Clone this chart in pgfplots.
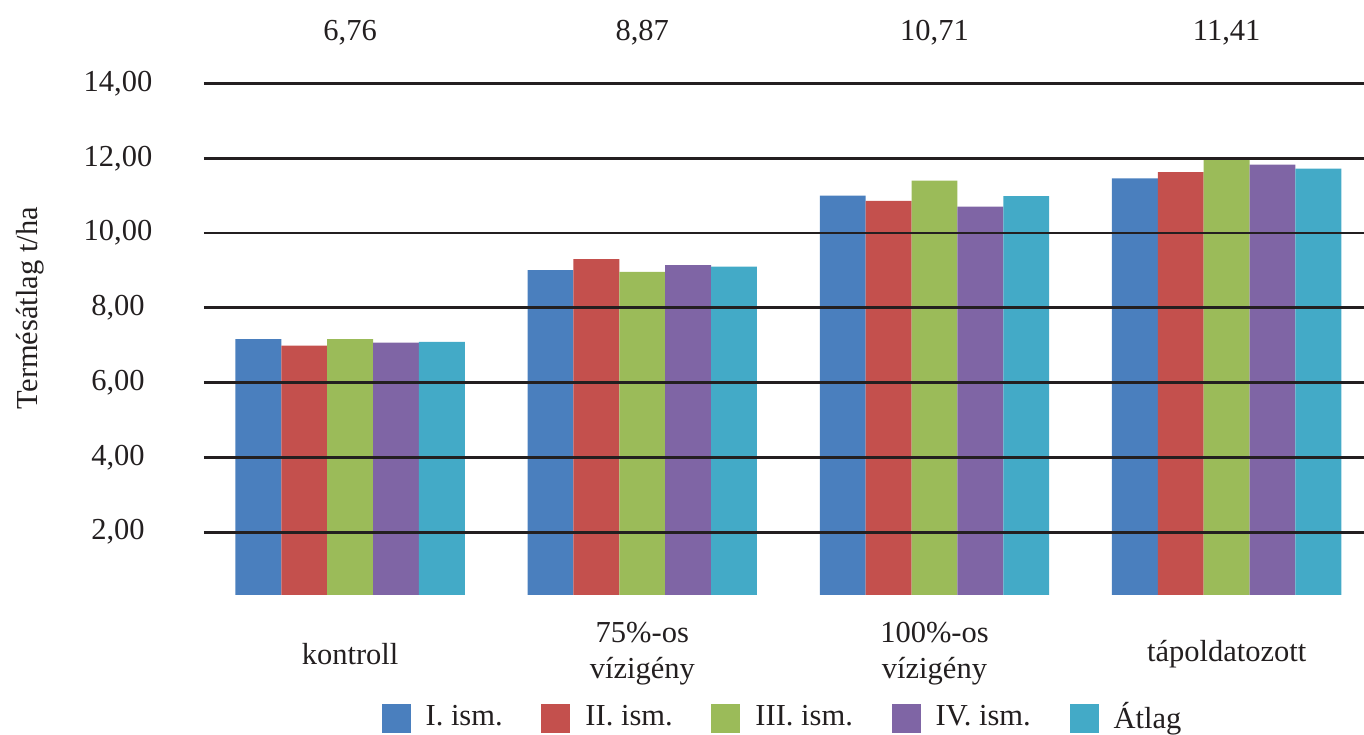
\documentclass[border=0pt]{standalone}
\usepackage{fontspec}
\setmainfont{Liberation Serif}
\usepackage{pgfplots}
\pgfplotsset{compat=1.18}

\definecolor{serA}{RGB}{74,127,190}
\definecolor{serB}{RGB}{196,80,77}
\definecolor{serC}{RGB}{155,187,89}
\definecolor{serD}{RGB}{127,101,165}
\definecolor{serE}{RGB}{67,170,199}
\definecolor{gridc}{RGB}{35,31,32}

\pgfplotsset{sq/.style={legend image code/.code={\fill[##1,draw=none] (0pt,-5.8pt) rectangle (11.6pt,5.8pt);}}}

\begin{document}
\fontsize{12.2}{14.5}\selectfont
\begin{tikzpicture}
\begin{axis}[
scale only axis,
width=464pt, height=204.6pt,
xmin=-0.5, xmax=3.47,
ymin=0.32, ymax=14,
ybar=0pt, bar width=0.157,
axis on top,
clip=false,
axis line style={draw=none},
tick style={draw=none},
ymajorgrids,
grid style={gridc, line width=1.1pt},
ytick={2,4,6,8,10,12,14},
/pgf/number format/fixed,
/pgf/number format/fixed zerofill,
/pgf/number format/precision=2,
/pgf/number format/use comma,
/pgf/number format/assume math mode=true,
yticklabel style={anchor=center, xshift=-34.4pt, text=gridc},
xtick={0,1,2,3},
xticklabels={kontroll,{75\%-os\\vízigény},{100\%-os\\vízigény},tápoldatozott},
xticklabel style={align=center, anchor=center, yshift=-19.2pt, text=gridc},
ylabel={Termésátlag t/ha},
ylabel style={at={(axis description cs:-0.15,0.561)}, anchor=center, text=gridc},
legend columns=5,
legend style={draw=none, fill=none, at={(0.5,-0.2405)}, anchor=center, text=gridc,
  /tikz/every odd column/.append style={column sep=4pt},
  /tikz/every even column/.append style={column sep=13.5pt}},
]
\addplot [sq, fill=serA, draw=none, bar shift=-0.314] coordinates {(0,7.16) (1,9.01) (2,11.00) (3,11.46)};
\addplot [sq, fill=serB, draw=none, bar shift=-0.157] coordinates {(0,6.99) (1,9.30) (2,10.86) (3,11.63)};
\addplot [sq, fill=serC, draw=none, bar shift=0] coordinates {(0,7.16) (1,8.96) (2,11.40) (3,11.97)};
\addplot [sq, fill=serD, draw=none, bar shift=0.157] coordinates {(0,7.07) (1,9.14) (2,10.71) (3,11.83)};
\addplot [sq, fill=serE, draw=none, bar shift=0.314] coordinates {(0,7.09) (1,9.10) (2,10.99) (3,11.72)};
\legend{I. ism., II. ism., III. ism., IV. ism., Átlag}
\node[text=gridc] at (axis cs:0,15.35) {6,76};
\node[text=gridc] at (axis cs:1,15.35) {8,87};
\node[text=gridc] at (axis cs:2,15.35) {10,71};
\node[text=gridc] at (axis cs:3,15.35) {11,41};
\end{axis}
\pgfresetboundingbox
\path (-81.6pt,-56pt) rectangle (464pt,238pt);
\end{tikzpicture}
\end{document}
